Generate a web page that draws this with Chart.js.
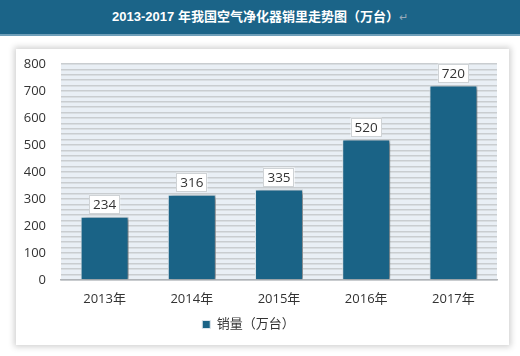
<!DOCTYPE html>
<html><head><meta charset="utf-8">
<script src="https://cdn.jsdelivr.net/npm/chart.js@4/dist/chart.umd.min.js"></script>
<style>
html,body{margin:0;padding:0;width:520px;height:356px;background:#fff;overflow:hidden;font-family:"Open Sans","Noto Sans CJK SC",sans-serif;}
#title{position:absolute;left:0;top:0;width:520px;height:34px;background:#1b6488;border-bottom:2px solid #6f9fb9;color:#fff;font:bold 13px "Liberation Sans","Noto Sans CJK SC",sans-serif;text-align:center;line-height:34px;}
#title span{color:#9ab;font-weight:normal;font-size:11px;}
#panel{position:absolute;left:16px;top:49px;width:493px;height:296px;background:#fff;box-shadow:0 0 6px 2px rgba(0,0,0,0.18);}
#wrap{position:absolute;left:0;top:0;width:520px;height:356px;}
</style></head><body>
<div id="title">2013-2017 年我国空气净化器销里走势图（万台）<span>↵</span></div>
<div id="panel"></div>
<div id="wrap"><canvas id="c" width="520" height="356"></canvas></div>
<script>
const categories = ['2013年','2014年','2015年','2016年','2017年'];
const seriesName = '销量（万台）';
const sales = [234, 316, 335, 520, 720];
const yMin = 0, yMax = 800, yGridStep = 20, yLabelStep = 100;

const FONT = '"Open Sans","Noto Sans CJK SC",sans-serif';
const BAR = '#1a6386';

const plotBg = {
  id: 'plotBg',
  beforeDraw(chart){
    const {ctx, chartArea:a} = chart;
    ctx.save(); ctx.fillStyle = '#e9eff5';
    ctx.fillRect(a.left, a.top, a.right-a.left, a.bottom-a.top);
    ctx.restore();
  }
};
const barShadow = {
  id: 'barShadow',
  beforeDatasetsDraw(chart){
    const ctx = chart.ctx; ctx.save();
    ctx.shadowColor = 'rgba(0,0,0,0.45)'; ctx.shadowBlur = 4;
    ctx.shadowOffsetX = 3; ctx.shadowOffsetY = 1;
  },
  afterDatasetsDraw(chart){
    const ctx = chart.ctx; ctx.restore();
    const meta = chart.getDatasetMeta(0);
    ctx.save();
    ctx.font = '13.5px ' + FONT;
    ctx.textAlign = 'center'; ctx.textBaseline = 'middle';
    meta.data.forEach((bar, i) => {
      const txt = String(chart.data.datasets[0].data[i]);
      const w = ctx.measureText(txt).width + 8, h = 19;
      const x = bar.x - w/2, y = bar.y - 3 - h;
      ctx.fillStyle = '#fff'; ctx.fillRect(x, y, w, h);
      ctx.strokeStyle = '#cfd3d6'; ctx.lineWidth = 1;
      ctx.strokeRect(Math.round(x)+0.5, Math.round(y)+0.5, Math.round(w)-1, h-1);
      ctx.fillStyle = '#333'; ctx.fillText(txt, bar.x, y + h/2 + 1);
    });
    ctx.restore();
  }
};

new Chart(document.getElementById('c'), {
  type: 'bar',
  data: { labels: categories, datasets: [{ label: seriesName, data: sales, backgroundColor: BAR, borderColor: '#dde6ec', borderWidth: 1, categoryPercentage: 0.55, barPercentage: 1 }] },
  options: {
    responsive: false, animation: false,
    layout: { padding: { left: 0, right: 23, top: 64, bottom: 15 } },
    plugins: {
      legend: { position: 'bottom', labels: { font: { size: 13, family: FONT }, color: '#333', boxWidth: 8, boxHeight: 8, padding: 8 } },
      tooltip: { enabled: false }
    },
    scales: {
      x: {
        grid: { display: false, drawTicks: false },
        border: { display: true, color: '#b0b4b8', width: 1.5 },
        ticks: { font: { size: 13, family: FONT }, color: '#333', padding: 11 },
        afterFit(s){ s.height = 30; }
      },
      y: {
        min: yMin, max: yMax,
        grid: { color: '#c9cdd0', lineWidth: 1.5, drawTicks: false },
        border: { display: false },
        ticks: { stepSize: yGridStep, maxTicksLimit: 100, autoSkip: false, padding: 15,
          font: { size: 13, family: FONT }, color: '#333',
          callback: v => (v % yLabelStep === 0 ? String(v) : '') },
        afterFit(s){ s.width = 61; }
      }
    }
  },
  plugins: [plotBg, barShadow]
});
</script>
</body></html>
